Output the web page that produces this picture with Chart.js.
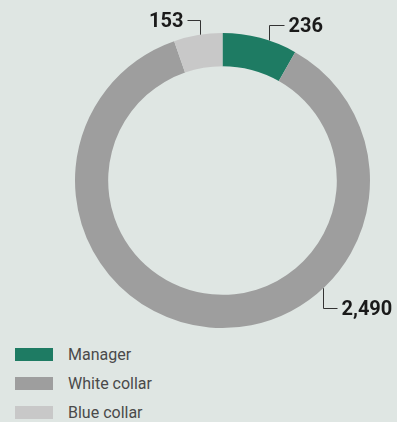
<!DOCTYPE html>
<html>
<head>
<meta charset="utf-8">
<script src="https://cdn.jsdelivr.net/npm/chart.js@4"></script>
<style>
  html, body { margin: 0; padding: 0; background: #dfe6e3; }
  body { width: 397px; height: 422px; overflow: hidden; font-family: Roboto, sans-serif; }
  #wrap { position: relative; width: 397px; height: 335px; }
  #legend { list-style: none; margin: 0; padding: 0; position: absolute; left: 15px; top: 340px; }
  #legend li { height: 29px; display: flex; align-items: center; font-size: 16px; color: #4a4a4a; }
  #legend span.sw { display: inline-block; width: 38px; height: 13px; margin-right: 15px; }
</style>
</head>
<body>
<div id="wrap"><canvas id="donut"></canvas></div>
<ul id="legend"></ul>
<script>
const categories = ['Manager', 'White collar', 'Blue collar'];
const counts = [236, 2490, 153];
const colors = ['#1e7b63', '#9e9e9e', '#c8c8c8'];

// where along each slice the leader line leaves, and which way it runs
const callouts = [
  { frac: 0.62, vert: -15, horiz: 15 },
  { frac: 0.345, vert: 20, horiz: 14 },
  { frac: 0.55, vert: -15, horiz: -13 }
];

const leaderLabels = {
  id: 'leaderLabels',
  afterDatasetsDraw(chart) {
    const { ctx } = chart;
    const arcs = chart.getDatasetMeta(0).data;
    ctx.save();
    ctx.strokeStyle = '#333';
    ctx.lineWidth = 1;
    ctx.fillStyle = '#1a1a1a';
    ctx.font = 'bold 20px Roboto, sans-serif';
    ctx.textBaseline = 'middle';
    arcs.forEach((arc, i) => {
      const c = callouts[i];
      const a = arc.startAngle + (arc.endAngle - arc.startAngle) * c.frac;
      const x0 = Math.round(arc.x + Math.cos(a) * arc.outerRadius) + 0.5;
      const y0 = arc.y + Math.sin(a) * arc.outerRadius;
      const y1 = Math.round(y0 + c.vert) + 0.5;
      const x1 = x0 + c.horiz;
      ctx.beginPath();
      ctx.moveTo(x0, y0);
      ctx.lineTo(x0, y1);
      ctx.lineTo(x1, y1);
      ctx.stroke();
      ctx.textAlign = c.horiz > 0 ? 'left' : 'right';
      ctx.fillText(counts[i].toLocaleString('en-US'), x1 + (c.horiz > 0 ? 4 : -4), y1 + 1);
    });
    ctx.restore();
  }
};

new Chart(document.getElementById('donut'), {
  type: 'doughnut',
  data: {
    labels: categories,
    datasets: [{
      data: counts,
      backgroundColor: colors,
      borderWidth: 0
    }]
  },
  options: {
    responsive: true,
    maintainAspectRatio: false,
    animation: false,
    cutout: '77.5%',
    layout: { padding: { left: 75, right: 27, top: 33, bottom: 7 } },
    plugins: {
      legend: { display: false },
      tooltip: { enabled: false }
    }
  },
  plugins: [leaderLabels]
});

const legend = document.getElementById('legend');
categories.forEach((name, i) => {
  const li = document.createElement('li');
  li.innerHTML = '<span class="sw" style="background:' + colors[i] + '"></span>' + name;
  legend.appendChild(li);
});
</script>
</body>
</html>
